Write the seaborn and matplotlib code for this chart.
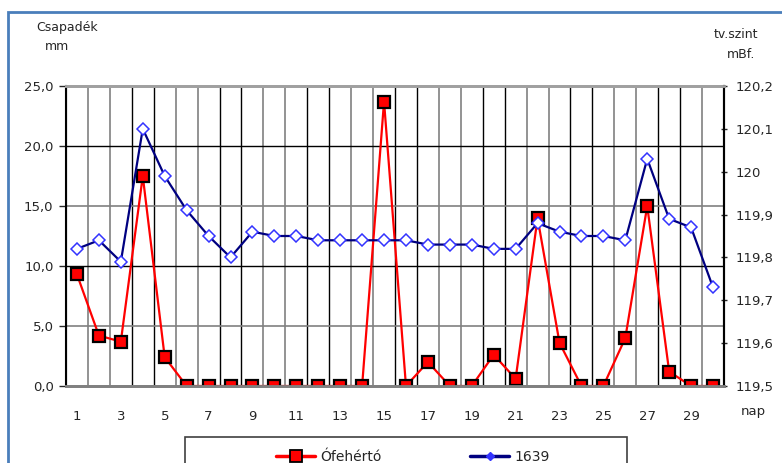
import matplotlib
matplotlib.use("Agg")
import matplotlib.pyplot as plt
from matplotlib.lines import Line2D
from matplotlib.patches import Rectangle
import seaborn as sns
import pandas as pd

# napi adatok
nap = list(range(1, 31))
ofeherto = [9.3, 4.2, 3.7, 17.5, 2.4, 0, 0, 0, 0, 0, 0, 0, 0, 0, 23.7,
            0, 2.0, 0, 0, 2.6, 0.6, 14.0, 3.6, 0, 0, 4.0, 15.0, 1.2, 0, 0]
vizszint_1639 = [119.82, 119.84, 119.79, 120.10, 119.99, 119.91, 119.85, 119.80,
                 119.86, 119.85, 119.85, 119.84, 119.84, 119.84, 119.84, 119.84,
                 119.83, 119.83, 119.83, 119.82, 119.82, 119.88, 119.86, 119.85,
                 119.85, 119.84, 120.03, 119.89, 119.87, 119.73]
bal_ticks = [0, 5, 10, 15, 20, 25]
jobb_ticks = [119.5, 119.6, 119.7, 119.8, 119.9, 120.0, 120.1, 120.2]
jobb_labels = ["119,5", "119,6", "119,7", "119,8", "119,9", "120", "120,1", "120,2"]

df = pd.DataFrame({"nap": nap, "Ófehértó": ofeherto, "1639": vizszint_1639})

sns.set_style("white")
plt.rcParams["font.family"] = ["DejaVu Sans"]

fig = plt.figure(figsize=(7.82, 4.63), dpi=100)
ax = fig.add_axes([66 / 782, 77 / 463, 658 / 782, 300 / 463])
ax.set_xlim(0.5, 30.5)
ax.set_ylim(0, 25)

# rácsvonalak
for k in range(1, 31):
    c = "#000000" if k % 4 in (0, 3) else "#808080"
    ax.axvline(k + 0.5, color=c, lw=1.2 if c == "#808080" else 1.0, zorder=0.5)
for v, c in zip([5, 10, 15, 20], ["#808080", "#000000", "#808080", "#000000"]):
    ax.axhline(v, color=c, lw=1.2 if c == "#808080" else 1.0, zorder=0.5)

sns.lineplot(data=df, x="nap", y="Ófehértó", ax=ax, color="#FF0000", lw=1.6,
             marker="s", markersize=8.5, markerfacecolor="#FF0000",
             markeredgecolor="black", markeredgewidth=1.6, zorder=3)

ax2 = ax.twinx()
ax2.set_ylim(119.5, 120.2)
sns.lineplot(data=df, x="nap", y="1639", ax=ax2, color="#000080", lw=1.6,
             marker="D", markersize=6, markerfacecolor="white",
             markeredgecolor="#3333FF", markeredgewidth=1.1, zorder=3)

ax.set_xlabel("")
ax.set_ylabel("")
ax2.set_ylabel("")
ax.set_yticks(bal_ticks)
ax.set_yticklabels([f"{v:.1f}".replace(".", ",") for v in bal_ticks])
ax.set_xticks(range(1, 30, 2))
ax.set_xticks([k + 0.5 for k in range(0, 31)], minor=True)
ax.tick_params(axis="x", which="major", length=0, pad=17, labelsize=9.5)
ax.tick_params(axis="x", which="minor", length=5, width=1, direction="out", color="black")
ax.tick_params(axis="y", length=5, width=1, direction="out", labelsize=9.5, pad=4)
ax2.set_yticks(jobb_ticks)
ax2.set_yticklabels(jobb_labels)
ax2.tick_params(axis="y", length=5, width=1, direction="inout", labelsize=9.5, pad=6)

for a in (ax, ax2):
    a.spines["left"].set_color("black")
    a.spines["right"].set_color("black")
    a.spines["right"].set_linewidth(1.5)
    a.spines["top"].set_color("#A0A0A0")
    a.spines["top"].set_linewidth(2)
    a.spines["bottom"].set_color("#808080")
    a.spines["bottom"].set_linewidth(2)
ax.spines["left"].set_linewidth(1.5)

fig.text(67 / 782, 1 - 27 / 463, "Csapadék", fontsize=9, ha="center", va="center")
fig.text(57 / 782, 1 - 47 / 463, "mm", fontsize=9, ha="center", va="center")
fig.text(736 / 782, 1 - 34 / 463, "tv.szint", fontsize=9, ha="center", va="center")
fig.text(741 / 782, 1 - 55 / 463, "mBf.", fontsize=9, ha="center", va="center")
fig.text(753 / 782, 1 - 411 / 463, "nap", fontsize=9.5, ha="center", va="center")

# külső keret és jelmagyarázat kerete
fig.patches.append(Rectangle((8 / 782, -0.2), 1.3, 1.2 - 12 / 463, transform=fig.transFigure,
                             fill=False, edgecolor="#4A7EBB", lw=2, zorder=0))
fig.patches.append(Rectangle((185 / 782, -0.1), 442 / 782, 0.1 + 26 / 463,
                             transform=fig.transFigure, fill=False,
                             edgecolor="#404040", lw=1.2, zorder=0))

h1 = Line2D([], [], color="#FF0000", lw=2.5, marker="s", markersize=8,
            markerfacecolor="#FF0000", markeredgecolor="black", markeredgewidth=1.3)
h2 = Line2D([], [], color="#000080", lw=2.5, marker="D", markersize=4,
            markerfacecolor="#3333FF", markeredgecolor="#3333FF")
leg = fig.legend([h1, h2], ["Ófehértó", "1639"], loc="upper center",
                 bbox_to_anchor=(413 / 782, 1 - 443 / 463),
                 ncol=2, frameon=False, fontsize=10, handlelength=2.8,
                 handletextpad=0.35, columnspacing=6.4, borderpad=0)

fig.savefig("out.png", dpi=100)
